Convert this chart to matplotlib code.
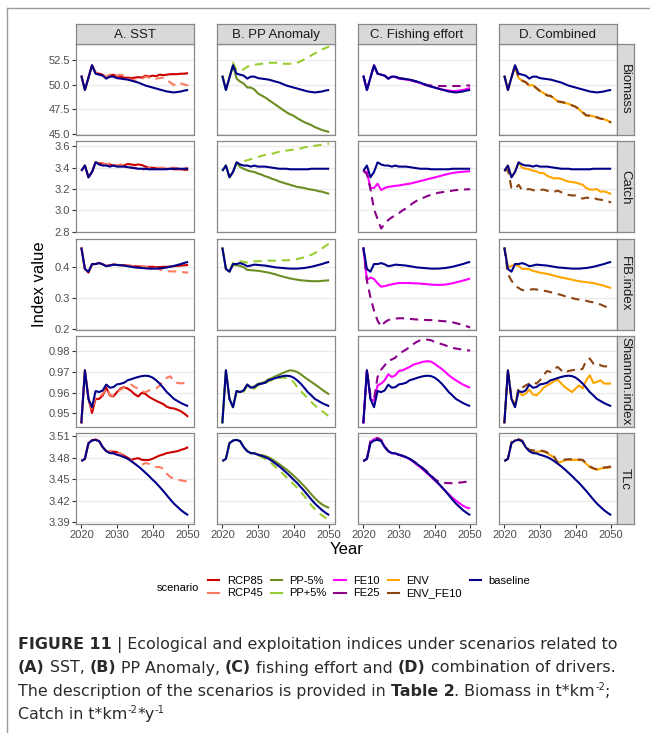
import numpy as np
import matplotlib
matplotlib.use('Agg')
import matplotlib.pyplot as plt
from matplotlib.lines import Line2D

plt.rcParams['font.family'] = ['Liberation Sans', 'DejaVu Sans']

# years of the projection
years = np.arange(2020, 2051)

# ---- Biomass ----
biomass_baseline = [50.9, 49.45, 50.7, 51.95, 51.1, 51.0, 50.9, 50.6, 50.8, 50.8, 50.65, 50.6, 50.55, 50.5, 50.4, 50.3,
                    50.2, 50.05, 49.9, 49.8, 49.7, 49.6, 49.5, 49.4, 49.3, 49.25, 49.2, 49.25, 49.3, 49.4, 49.45]
biomass_rcp85 = [50.9, 49.45, 50.7, 51.95, 51.2, 51.1, 51.0, 50.7, 50.9, 51.0, 50.8, 50.8, 50.7, 50.7, 50.65, 50.7,
                 50.75, 50.7, 50.9, 50.8, 50.9, 50.85, 51.0, 50.95, 51.0, 51.05, 51.05, 51.05, 51.1, 51.1, 51.15]
biomass_rcp45 = [50.9, 49.45, 50.7, 51.95, 51.2, 51.1, 51.0, 50.8, 51.0, 51.1, 50.9, 51.0, 50.9, 50.6, 50.5, 50.4,
                 50.45, 50.55, 50.8, 50.7, 50.7, 50.6, 50.65, 50.7, 50.5, 50.2, 49.95, 50.2, 50.1, 50.0, 49.9]
biomass_pp_m5 = [50.9, 49.45, 50.7, 51.95, 50.6, 50.3, 50.1, 49.7, 49.7, 49.5, 49.1, 48.9, 48.7, 48.45, 48.2, 47.95,
                 47.7, 47.45, 47.2, 47.0, 46.85, 46.6, 46.4, 46.2, 46.05, 45.9, 45.7, 45.55, 45.4, 45.3, 45.2]
biomass_pp_p5 = [50.9, 49.45, 50.7, 52.2, 51.45, 51.4, 51.55, 51.8, 51.95, 52.0, 52.05, 52.1, 52.15, 52.2, 52.2, 52.2,
                 52.15, 52.1, 52.1, 52.1, 52.1, 52.2, 52.35, 52.55, 52.75, 52.95, 53.15, 53.35, 53.55, 53.7, 53.85]
biomass_fe10 = [50.9, 49.45, 50.7, 51.95, 51.1, 51.0, 50.9, 50.6, 50.8, 50.75, 50.6, 50.55, 50.5, 50.45, 50.35, 50.25,
                50.15, 50.0, 49.9, 49.8, 49.7, 49.6, 49.5, 49.45, 49.4, 49.35, 49.35, 49.4, 49.45, 49.55, 49.65]
biomass_fe25 = [50.9, 49.45, 50.7, 51.95, 51.1, 51.0, 50.9, 50.6, 50.8, 50.8, 50.65, 50.6, 50.55, 50.5, 50.4, 50.3,
                50.2, 50.05, 49.95, 49.9, 49.85, 49.85, 49.85, 49.85, 49.85, 49.85, 49.85, 49.85, 49.85, 49.9, 49.9]
biomass_env = [50.9, 49.45, 50.7, 51.9, 50.65, 50.4, 50.2, 49.9, 49.95, 49.6, 49.35, 49.15, 48.9, 48.85, 48.6, 48.3,
               48.2, 48.15, 48.05, 47.9, 47.75, 47.5, 47.15, 46.85, 46.85, 46.8, 46.65, 46.55, 46.5, 46.35, 46.15]
biomass_env_fe10 = [50.9, 49.45, 50.7, 51.9, 50.7, 50.4, 50.25, 49.9, 49.95, 49.65, 49.35, 49.2, 48.9, 48.85, 48.6, 48.3,
                    48.25, 48.15, 48.05, 47.9, 47.75, 47.5, 47.2, 46.9, 46.85, 46.8, 46.7, 46.55, 46.5, 46.35, 46.15]

# ---- Catch ----
catch_baseline = [3.37, 3.42, 3.31, 3.36, 3.45, 3.43, 3.42, 3.42, 3.41, 3.42, 3.41, 3.41, 3.41, 3.405, 3.40, 3.395,
                  3.39, 3.39, 3.39, 3.385, 3.385, 3.385, 3.385, 3.385, 3.385, 3.39, 3.39, 3.39, 3.39, 3.39, 3.39]
catch_rcp85 = [3.37, 3.42, 3.31, 3.36, 3.45, 3.44, 3.44, 3.43, 3.43, 3.42, 3.42, 3.42, 3.42, 3.435, 3.43, 3.425,
               3.43, 3.425, 3.41, 3.40, 3.40, 3.395, 3.395, 3.39, 3.39, 3.39, 3.385, 3.385, 3.385, 3.38, 3.38]
catch_rcp45 = [3.37, 3.42, 3.31, 3.36, 3.45, 3.43, 3.44, 3.43, 3.44, 3.43, 3.42, 3.43, 3.42, 3.41, 3.40, 3.40,
               3.39, 3.375, 3.39, 3.395, 3.40, 3.40, 3.40, 3.40, 3.395, 3.40, 3.40, 3.395, 3.40, 3.40, 3.395]
catch_pp_m5 = [3.37, 3.42, 3.31, 3.36, 3.45, 3.405, 3.39, 3.375, 3.365, 3.36, 3.345, 3.335, 3.32, 3.31, 3.295, 3.285,
               3.27, 3.26, 3.25, 3.24, 3.23, 3.22, 3.215, 3.21, 3.20, 3.195, 3.19, 3.18, 3.175, 3.165, 3.155]
catch_pp_p5 = [3.37, 3.42, 3.31, 3.36, 3.44, 3.445, 3.46, 3.47, 3.48, 3.49, 3.50, 3.51, 3.52, 3.525, 3.53, 3.54,
               3.55, 3.555, 3.56, 3.565, 3.57, 3.575, 3.58, 3.59, 3.595, 3.60, 3.605, 3.61, 3.615, 3.62, 3.625]
catch_fe10 = [3.37, 3.36, 3.21, 3.21, 3.25, 3.19, 3.21, 3.22, 3.225, 3.23, 3.233, 3.24, 3.245, 3.25, 3.258, 3.266,
              3.275, 3.283, 3.292, 3.30, 3.308, 3.317, 3.326, 3.335, 3.343, 3.35, 3.355, 3.359, 3.362, 3.365, 3.367]
catch_fe25 = [3.37, 3.34, 3.20, 3.01, 2.92, 2.83, 2.875, 2.91, 2.935, 2.955, 2.975, 3.0, 3.02, 3.045, 3.07, 3.09,
              3.105, 3.12, 3.135, 3.145, 3.155, 3.165, 3.17, 3.175, 3.18, 3.185, 3.19, 3.193, 3.195, 3.197, 3.198]
catch_env = [3.37, 3.42, 3.31, 3.36, 3.45, 3.40, 3.39, 3.385, 3.372, 3.365, 3.35, 3.35, 3.325, 3.31, 3.30, 3.302,
             3.295, 3.28, 3.27, 3.265, 3.261, 3.25, 3.24, 3.21, 3.195, 3.195, 3.20, 3.175, 3.178, 3.168, 3.152]
catch_env_fe10 = [3.37, 3.38, 3.21, 3.20, 3.24, 3.19, 3.195, 3.20, 3.19, 3.185, 3.19, 3.195, 3.185, 3.175, 3.175, 3.185,
                  3.17, 3.155, 3.145, 3.14, 3.14, 3.125, 3.11, 3.12, 3.115, 3.12, 3.105, 3.10, 3.095, 3.085, 3.075]

# ---- FiB index ----
fib_baseline = [0.465, 0.395, 0.386, 0.411, 0.411, 0.414, 0.41, 0.404, 0.406, 0.409, 0.408, 0.407, 0.406, 0.404, 0.402,
                0.40, 0.399, 0.398, 0.397, 0.396, 0.396, 0.396, 0.397, 0.398, 0.40, 0.402, 0.405, 0.408, 0.411, 0.415, 0.418]
fib_rcp85 = [0.465, 0.395, 0.383, 0.41, 0.411, 0.415, 0.41, 0.405, 0.407, 0.409, 0.408, 0.407, 0.407, 0.406, 0.405,
             0.404, 0.403, 0.403, 0.402, 0.402, 0.402, 0.401, 0.401, 0.402, 0.402, 0.403, 0.404, 0.405, 0.406, 0.407, 0.408]
fib_rcp45 = [0.465, 0.395, 0.383, 0.41, 0.412, 0.414, 0.41, 0.405, 0.407, 0.41, 0.408, 0.408, 0.407, 0.406, 0.405,
             0.404, 0.403, 0.402, 0.401, 0.401, 0.40, 0.398, 0.393, 0.39, 0.388, 0.387, 0.387, 0.386, 0.385, 0.384, 0.383]
fib_pp_m5 = [0.465, 0.395, 0.386, 0.408, 0.407, 0.405, 0.40, 0.392, 0.391, 0.39, 0.389, 0.387, 0.385, 0.383, 0.38,
             0.377, 0.373, 0.37, 0.367, 0.364, 0.362, 0.36, 0.358, 0.357, 0.356, 0.355, 0.355, 0.355, 0.356, 0.357, 0.358]
fib_pp_p5 = [0.465, 0.395, 0.386, 0.415, 0.418, 0.42, 0.418, 0.416, 0.418, 0.42, 0.42, 0.421, 0.421, 0.422, 0.422,
             0.422, 0.422, 0.423, 0.423, 0.424, 0.425, 0.427, 0.43, 0.433, 0.437, 0.441, 0.447, 0.454, 0.462, 0.47, 0.478]
fib_fe10 = [0.465, 0.359, 0.367, 0.362, 0.348, 0.337, 0.339, 0.342, 0.345, 0.347, 0.349, 0.349, 0.349, 0.349, 0.348,
            0.348, 0.347, 0.346, 0.345, 0.344, 0.343, 0.343, 0.343, 0.344, 0.346, 0.348, 0.351, 0.354, 0.357, 0.36, 0.364]
fib_fe25 = [0.465, 0.357, 0.302, 0.259, 0.226, 0.207, 0.221, 0.228, 0.232, 0.233, 0.234, 0.234, 0.233, 0.232, 0.231,
            0.23, 0.229, 0.229, 0.228, 0.228, 0.227, 0.226, 0.225, 0.224, 0.222, 0.221, 0.218, 0.215, 0.211, 0.208, 0.204]
fib_env = [0.465, 0.40, 0.405, 0.408, 0.405, 0.395, 0.395, 0.394, 0.389, 0.386, 0.383, 0.381, 0.379, 0.376, 0.373,
           0.37, 0.367, 0.365, 0.362, 0.36, 0.357, 0.355, 0.353, 0.352, 0.35, 0.349, 0.346, 0.343, 0.34, 0.336, 0.333]
fib_env_fe10 = [0.465, 0.378, 0.357, 0.34, 0.333, 0.326, 0.326, 0.327, 0.329, 0.328, 0.326, 0.324, 0.322, 0.319, 0.316,
                0.313, 0.31, 0.306, 0.302, 0.3, 0.297, 0.295, 0.293, 0.291, 0.288, 0.286, 0.283, 0.279, 0.274, 0.269, 0.264]

# ---- Shannon index ----
shannon_baseline = [0.9452, 0.9708, 0.957, 0.953, 0.9608, 0.9603, 0.9611, 0.9639, 0.9624, 0.9627, 0.964, 0.9643,
                    0.9648, 0.966, 0.9665, 0.9671, 0.9676, 0.968, 0.9682, 0.968, 0.9673, 0.966, 0.9644, 0.9624,
                    0.9603, 0.9587, 0.957, 0.956, 0.955, 0.9542, 0.9535]
shannon_rcp85 = [0.9452, 0.9708, 0.957, 0.9502, 0.957, 0.957, 0.9587, 0.9624, 0.9587, 0.9582, 0.9603, 0.962, 0.9627,
                 0.962, 0.9608, 0.9592, 0.9582, 0.96, 0.9594, 0.958, 0.957, 0.9561, 0.9553, 0.9545, 0.9532, 0.9526,
                 0.9524, 0.9518, 0.951, 0.9498, 0.9484]
shannon_rcp45 = [0.9452, 0.9708, 0.957, 0.9515, 0.9579, 0.9576, 0.9595, 0.9624, 0.959, 0.9585, 0.9603, 0.9615, 0.9624,
                 0.9635, 0.9639, 0.9627, 0.962, 0.9608, 0.9602, 0.9611, 0.9615, 0.962, 0.9635, 0.966, 0.9672, 0.9679,
                 0.9652, 0.9647, 0.9645, 0.9647, 0.9649]
shannon_pp_m5 = [0.9452, 0.9708, 0.957, 0.953, 0.9608, 0.9603, 0.9611, 0.964, 0.9626, 0.963, 0.9643, 0.9647, 0.9653,
                 0.9665, 0.9671, 0.968, 0.9687, 0.9695, 0.9702, 0.9708, 0.9706, 0.97, 0.9689, 0.9676, 0.9664, 0.9652,
                 0.964, 0.9628, 0.9615, 0.9603, 0.9592]
shannon_pp_p5 = [0.9452, 0.9708, 0.957, 0.953, 0.9605, 0.9598, 0.9605, 0.9632, 0.962, 0.962, 0.9635, 0.9638, 0.9645,
                 0.9655, 0.9662, 0.9668, 0.9671, 0.9673, 0.967, 0.9665, 0.9652, 0.9627, 0.9608, 0.959, 0.9573, 0.9555,
                 0.9538, 0.9524, 0.9512, 0.9498, 0.9484]
shannon_fe10 = [0.9452, 0.9708, 0.957, 0.956, 0.9635, 0.9644, 0.966, 0.9689, 0.9676, 0.9684, 0.9705, 0.9708, 0.9716,
                0.9724, 0.9735, 0.974, 0.9745, 0.975, 0.9752, 0.975, 0.974, 0.9727, 0.9715, 0.97, 0.9684, 0.9671,
                0.966, 0.9649, 0.9639, 0.9631, 0.9624]
shannon_fe25 = [0.9452, 0.9708, 0.9585, 0.957, 0.9676, 0.9711, 0.9732, 0.9756, 0.976, 0.9769, 0.9789, 0.9798, 0.9808,
                0.9821, 0.9834, 0.9845, 0.9853, 0.9856, 0.9856, 0.9853, 0.9845, 0.984, 0.9834, 0.9829, 0.9821, 0.9816,
                0.9813, 0.981, 0.9808, 0.9805, 0.9803]
shannon_env = [0.9452, 0.9708, 0.957, 0.9547, 0.9608, 0.9587, 0.9595, 0.9615, 0.9592, 0.9587, 0.9603, 0.9624, 0.9635,
               0.9644, 0.9656, 0.9663, 0.9644, 0.9627, 0.9615, 0.9603, 0.962, 0.9635, 0.962, 0.966, 0.9684, 0.9647,
               0.9652, 0.966, 0.9644, 0.9644, 0.9644]
shannon_env_fe10 = [0.9452, 0.9708, 0.957, 0.9535, 0.9627, 0.9624, 0.9635, 0.9644, 0.9652, 0.9644, 0.966, 0.9684,
                    0.9705, 0.97, 0.9716, 0.9724, 0.9708, 0.9695, 0.9705, 0.9708, 0.9711, 0.9708, 0.9716, 0.9756,
                    0.9765, 0.974, 0.9745, 0.9732, 0.9727, 0.9727, 0.9727]

# ---- TLc ----
tlc_baseline = [3.4754, 3.4786, 3.5003, 3.504, 3.5049, 3.5031, 3.4948, 3.4892, 3.4865, 3.4862, 3.4842, 3.4828, 3.481,
                3.4786, 3.4754, 3.4717, 3.468, 3.4638, 3.4592, 3.4546, 3.4496, 3.4449, 3.4394, 3.4339, 3.4279, 3.4219,
                3.4163, 3.4117, 3.4071, 3.4034, 3.4002]
tlc_rcp85 = [3.4754, 3.4786, 3.5003, 3.5045, 3.5055, 3.5031, 3.4948, 3.4892, 3.488, 3.4885, 3.4879, 3.4856, 3.483,
             3.48, 3.4772, 3.4786, 3.4795, 3.4772, 3.4768, 3.477, 3.4786, 3.481, 3.4832, 3.4846, 3.4865, 3.4874,
             3.4883, 3.4892, 3.491, 3.4925, 3.4948]
tlc_rcp45 = [3.4754, 3.4786, 3.5003, 3.5045, 3.5055, 3.5031, 3.4948, 3.4892, 3.4892, 3.49, 3.4879, 3.4856, 3.481,
             3.4786, 3.4765, 3.4717, 3.4694, 3.4705, 3.4726, 3.4717, 3.4694, 3.4671, 3.4671, 3.465, 3.4578, 3.4532,
             3.4509, 3.4495, 3.4486, 3.4477, 3.4468]
tlc_pp_m5 = [3.4754, 3.4786, 3.5003, 3.504, 3.5049, 3.5031, 3.4948, 3.4892, 3.4865, 3.4862, 3.4845, 3.4838, 3.4825,
             3.4806, 3.4778, 3.4745, 3.4712, 3.4673, 3.4638, 3.4596, 3.4551, 3.4506, 3.4456, 3.4405, 3.435, 3.4291,
             3.4237, 3.419, 3.4151, 3.4124, 3.4103]
tlc_pp_p5 = [3.4754, 3.4786, 3.5003, 3.504, 3.5049, 3.5031, 3.4948, 3.4892, 3.4865, 3.4858, 3.4832, 3.4812, 3.4785,
             3.4755, 3.4715, 3.4669, 3.4625, 3.4578, 3.4528, 3.4478, 3.4432, 3.4384, 3.4328, 3.4268, 3.4205, 3.4139,
             3.4083, 3.4038, 3.3998, 3.3965, 3.3935]
tlc_fe10 = [3.4754, 3.4786, 3.502, 3.506, 3.5065, 3.5045, 3.4955, 3.4892, 3.4865, 3.4858, 3.484, 3.4825, 3.4805,
            3.478, 3.4745, 3.4705, 3.4668, 3.4625, 3.458, 3.4535, 3.4488, 3.4442, 3.4392, 3.4342, 3.4292, 3.4245,
            3.4204, 3.4168, 3.4132, 3.4108, 3.4094]
tlc_fe25 = [3.4754, 3.4786, 3.503, 3.507, 3.5075, 3.505, 3.4955, 3.4892, 3.4865, 3.4862, 3.4842, 3.4828, 3.481,
            3.4786, 3.4754, 3.472, 3.4685, 3.4645, 3.4605, 3.456, 3.4505, 3.4475, 3.4458, 3.445, 3.4447, 3.4447,
            3.445, 3.4455, 3.446, 3.4468, 3.4478]
tlc_env = [3.4754, 3.4786, 3.5003, 3.504, 3.5049, 3.5031, 3.4948, 3.4902, 3.4892, 3.488, 3.4892, 3.4885, 3.4865,
           3.4832, 3.4805, 3.4726, 3.4745, 3.4765, 3.4772, 3.4768, 3.4772, 3.4768, 3.4765, 3.4717, 3.4671, 3.4648,
           3.4634, 3.4648, 3.466, 3.466, 3.4671]
tlc_env_fe10 = [3.4754, 3.4786, 3.502, 3.5055, 3.506, 3.504, 3.4955, 3.491, 3.4905, 3.489, 3.49, 3.4895, 3.4875,
                3.484, 3.4815, 3.4735, 3.4755, 3.4775, 3.478, 3.478, 3.478, 3.4775, 3.477, 3.4725, 3.468, 3.4655,
                3.464, 3.4655, 3.4665, 3.467, 3.468]

# facet labels
panel_titles = ['A. SST', 'B. PP Anomaly', 'C. Fishing effort', 'D. Combined']
row_titles = ['Biomass', 'Catch', 'FiB.index', 'Shannon.index', 'TLc']

scenarios = ['RCP85', 'RCP45', 'PP-5%', 'PP+5%', 'FE10', 'FE25', 'ENV', 'ENV_FE10', 'baseline']
colors = {'RCP85': '#CD0000', 'RCP45': '#FA7B62', 'PP-5%': '#6B8E23', 'PP+5%': '#9ACD32',
          'FE10': '#FF00FF', 'FE25': '#8B008B', 'ENV': '#FFA500', 'ENV_FE10': '#8B4513',
          'baseline': '#00008B'}
dashed = ['RCP45', 'PP+5%', 'FE25', 'ENV_FE10']
column_scenarios = [['RCP85', 'RCP45'], ['PP-5%', 'PP+5%'], ['FE10', 'FE25'], ['ENV', 'ENV_FE10']]

series = {
    'Biomass': {'baseline': biomass_baseline, 'RCP85': biomass_rcp85, 'RCP45': biomass_rcp45,
                'PP-5%': biomass_pp_m5, 'PP+5%': biomass_pp_p5, 'FE10': biomass_fe10, 'FE25': biomass_fe25,
                'ENV': biomass_env, 'ENV_FE10': biomass_env_fe10},
    'Catch': {'baseline': catch_baseline, 'RCP85': catch_rcp85, 'RCP45': catch_rcp45,
              'PP-5%': catch_pp_m5, 'PP+5%': catch_pp_p5, 'FE10': catch_fe10, 'FE25': catch_fe25,
              'ENV': catch_env, 'ENV_FE10': catch_env_fe10},
    'FiB.index': {'baseline': fib_baseline, 'RCP85': fib_rcp85, 'RCP45': fib_rcp45,
                  'PP-5%': fib_pp_m5, 'PP+5%': fib_pp_p5, 'FE10': fib_fe10, 'FE25': fib_fe25,
                  'ENV': fib_env, 'ENV_FE10': fib_env_fe10},
    'Shannon.index': {'baseline': shannon_baseline, 'RCP85': shannon_rcp85, 'RCP45': shannon_rcp45,
                      'PP-5%': shannon_pp_m5, 'PP+5%': shannon_pp_p5, 'FE10': shannon_fe10, 'FE25': shannon_fe25,
                      'ENV': shannon_env, 'ENV_FE10': shannon_env_fe10},
    'TLc': {'baseline': tlc_baseline, 'RCP85': tlc_rcp85, 'RCP45': tlc_rcp45,
            'PP-5%': tlc_pp_m5, 'PP+5%': tlc_pp_p5, 'FE10': tlc_fe10, 'FE25': tlc_fe25,
            'ENV': tlc_env, 'ENV_FE10': tlc_env_fe10},
}

y_limits = {'Biomass': (44.9, 54.1), 'Catch': (2.795, 3.647), 'FiB.index': (0.197, 0.494),
            'Shannon.index': (0.9435, 0.9874), 'TLc': (3.3876, 3.5142)}
y_ticks = {'Biomass': ([45, 47.5, 50, 52.5], ['45.0', '47.5', '50.0', '52.5']),
           'Catch': ([2.8, 3.0, 3.2, 3.4, 3.6], ['2.8', '3.0', '3.2', '3.4', '3.6']),
           'FiB.index': ([0.2, 0.3, 0.4], ['0.2', '0.3', '0.4']),
           'Shannon.index': ([0.95, 0.96, 0.97, 0.98], ['0.95', '0.96', '0.97', '0.98']),
           'TLc': ([3.39, 3.42, 3.45, 3.48, 3.51], ['3.39', '3.42', '3.45', '3.48', '3.51'])}

# layout in pixels of the 650x733 canvas
W, H = 650, 733
col_lefts = [76, 217, 358, 499]
panel_w = 117.5
row_tops = [44, 141.3, 238.6, 335.9, 433.2]
panel_h = 91
strip_h = 20
strip_w = 17
border_col = '#888888'
strip_fill = '#D9D9D9'


def px_box(left, top, width, height):
    return [left / W, 1 - (top + height) / H, width / W, height / H]


fig = plt.figure(figsize=(W / 100, H / 100), dpi=100)

for r, ind in enumerate(row_titles):
    for c in range(4):
        ax = fig.add_axes(px_box(col_lefts[c], row_tops[r], panel_w, panel_h))
        for sc in column_scenarios[c] + ['baseline']:
            ls = (0, (4, 2.8)) if sc in dashed else '-'
            ax.plot(years, series[ind][sc], color=colors[sc], lw=1.5, linestyle=ls,
                    solid_capstyle='butt', dash_capstyle='butt')
        ax.set_xlim(2018.5, 2051.5)
        ax.set_ylim(*y_limits[ind])
        ax.set_yticks(y_ticks[ind][0])
        ax.set_xticks([2020, 2030, 2040, 2050])
        ax.yaxis.grid(True, color='#EBEBEB', lw=0.9)
        ax.set_axisbelow(True)
        for sp in ax.spines.values():
            sp.set_color(border_col)
            sp.set_linewidth(0.9)
        ax.tick_params(length=3, width=0.8, color='#333333', labelsize=8, labelcolor='#4D4D4D', pad=1.5)
        if c == 0:
            ax.set_yticklabels(y_ticks[ind][1])
        else:
            ax.tick_params(axis='y', left=False, labelleft=False)
        if r == len(row_titles) - 1:
            ax.set_xticklabels(['2020', '2030', '2040', '2050'])
        else:
            ax.tick_params(axis='x', bottom=False, labelbottom=False)

# facet strips
for c, title in enumerate(panel_titles):
    sx = fig.add_axes(px_box(col_lefts[c], row_tops[0] - strip_h, panel_w, strip_h))
    sx.set_facecolor(strip_fill)
    sx.set_xticks([])
    sx.set_yticks([])
    for sp in sx.spines.values():
        sp.set_color(border_col)
        sp.set_linewidth(0.9)
    sx.text(0.5, 0.45, title, ha='center', va='center', fontsize=9.5, color='#1A1A1A', transform=sx.transAxes)

for r, title in enumerate(row_titles):
    sx = fig.add_axes(px_box(col_lefts[3] + panel_w, row_tops[r], strip_w, panel_h))
    sx.set_facecolor(strip_fill)
    sx.set_xticks([])
    sx.set_yticks([])
    for sp in sx.spines.values():
        sp.set_color(border_col)
        sp.set_linewidth(0.9)
    sx.text(0.5, 0.5, title, ha='center', va='center', rotation=-90, fontsize=9.5, color='#1A1A1A',
            transform=sx.transAxes)

# axis titles
fig.text(39 / W, 1 - 284 / H, 'Index value', rotation=90, ha='center', va='center', fontsize=12)
fig.text(346.5 / W, 1 - 549 / H, 'Year', ha='center', va='center', fontsize=12)

# legend
handles = [Line2D([], [], color=colors[s], lw=1.5) for s in scenarios]
fig.legend(handles, scenarios, ncol=5, loc='center left', bbox_to_anchor=(208 / W, 1 - 587 / H),
           frameon=False, fontsize=8, handlelength=1.0, handletextpad=0.7, columnspacing=0.7,
           labelspacing=0.25, borderpad=0, borderaxespad=0)
fig.text(157 / W, 1 - 588 / H, 'scenario', fontsize=8, ha='left', va='center')

# thin frame around the figure (top and left edge)
fig.add_artist(Line2D([7 / W, 1], [1 - 8 / H, 1 - 8 / H], color='#9A9A9A', lw=1.0))
fig.add_artist(Line2D([7 / W, 7 / W], [0, 1 - 8 / H], color='#9A9A9A', lw=1.0))

# caption
renderer = fig.canvas.get_renderer()
cap_family = ['DejaVu Sans']
cap_color = '#2A2A2A'

caption = [
    (649, [('FIGURE 11', 'bold'),
           (' | Ecological and exploitation indices under scenarios related to', 'normal')]),
    (672.5, [('(A)', 'bold'), (' SST, ', 'normal'), ('(B)', 'bold'), (' PP Anomaly, ', 'normal'),
             ('(C)', 'bold'), (' fishing effort and ', 'normal'), ('(D)', 'bold'),
             (' combination of drivers.', 'normal')]),
    (696, [('The description of the scenarios is provided in ', 'normal'), ('Table 2', 'bold'),
           ('. Biomass in t*km', 'normal'), ('-2', 'sup'), (';', 'normal')]),
    (719, [('Catch in t*km', 'normal'), ('-2', 'sup'), ('*y', 'normal'), ('-1', 'sup')]),
]


def text_width(txt, size, weight):
    probe = fig.text(0, 0, '|' + txt + '|', fontsize=size, fontweight=weight, family=cap_family)
    ref = fig.text(0, 0, '||', fontsize=size, fontweight=weight, family=cap_family)
    w = probe.get_window_extent(renderer).width - ref.get_window_extent(renderer).width
    probe.remove()
    ref.remove()
    return w


def run_style(style, size):
    if style == 'sup':
        return size * 0.62, 'normal', size * 0.5
    return size, ('bold' if style == 'bold' else 'normal'), 0


def line_width(runs, size):
    total = 0
    for txt, style in runs:
        fs, wt, _ = run_style(style, size)
        total += text_width(txt, fs, wt)
    return total


# pick the caption size so the first line spans the same width as in the original
cap_size = 11.5 * 602 / line_width(caption[0][1], 11.5)

for base_px, runs in caption:
    x = 18
    for txt, style in runs:
        fs, wt, lift = run_style(style, cap_size)
        fig.text(x / W, 1 - (base_px - lift) / H, txt, fontsize=fs, fontweight=wt, family=cap_family,
                 ha='left', va='baseline', color=cap_color)
        x += text_width(txt, fs, wt)

fig.savefig('out.png', dpi=100)
